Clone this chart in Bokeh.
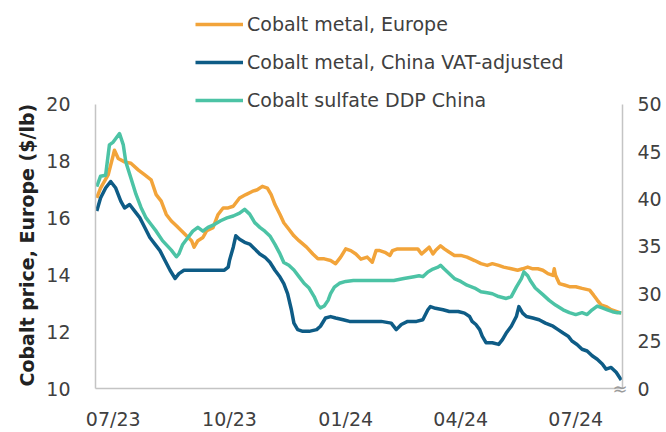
import pandas as pd
from bokeh.plotting import figure
from bokeh.models import (Range1d, LinearAxis, FixedTicker, DatetimeTickFormatter,
                          CustomJSTickFormatter, Legend, LegendItem, Title, ColumnDataSource)
from bokeh.embed import file_html
from bokeh.resources import INLINE

# ---------------- data ----------------
europe_dates = ["2023-06-18", "2023-06-21", "2023-06-27", "2023-07-01", "2023-07-02", "2023-07-05",
                "2023-07-10", "2023-07-15", "2023-07-21", "2023-07-26", "2023-07-31", "2023-08-04",
                "2023-08-08", "2023-08-12", "2023-08-16", "2023-08-20", "2023-08-24", "2023-08-28",
                "2023-09-01", "2023-09-03", "2023-09-06", "2023-09-10", "2023-09-13", "2023-09-18",
                "2023-09-22", "2023-09-26", "2023-09-30", "2023-10-04", "2023-10-09", "2023-10-14",
                "2023-10-19", "2023-10-23", "2023-10-27", "2023-10-31", "2023-11-03", "2023-11-06",
                "2023-11-10", "2023-11-13", "2023-11-17", "2023-11-21", "2023-11-25", "2023-12-01",
                "2023-12-06", "2023-12-10", "2023-12-15", "2023-12-20", "2023-12-24", "2023-12-28",
                "2024-01-01", "2024-01-05", "2024-01-09", "2024-01-13", "2024-01-18", "2024-01-22",
                "2024-01-25", "2024-01-28", "2024-02-01", "2024-02-05", "2024-02-07", "2024-02-11",
                "2024-02-22", "2024-02-27", "2024-03-01", "2024-03-04", "2024-03-07", "2024-03-10",
                "2024-03-12", "2024-03-16", "2024-03-19", "2024-03-23", "2024-03-27", "2024-04-01",
                "2024-04-06", "2024-04-12", "2024-04-17", "2024-04-22", "2024-04-26", "2024-05-01",
                "2024-05-05", "2024-05-11", "2024-05-16", "2024-05-20", "2024-05-24", "2024-05-28",
                "2024-06-01", "2024-06-05", "2024-06-09", "2024-06-13", "2024-06-14", "2024-06-15",
                "2024-06-18", "2024-06-22", "2024-06-26", "2024-07-01", "2024-07-06", "2024-07-12",
                "2024-07-15", "2024-07-18", "2024-07-21", "2024-07-25", "2024-07-29", "2024-08-02",
                "2024-08-06"]
europe_vals = [16.70, 17.05, 17.51, 18.20, 18.38, 18.09,
               17.97, 17.92, 17.68, 17.51, 17.34, 16.82,
               16.59, 16.12, 15.89, 15.72, 15.55, 15.37,
               15.20, 14.97, 15.20, 15.31, 15.55, 15.66,
               16.12, 16.35, 16.35, 16.41, 16.70, 16.82,
               16.93, 16.99, 17.11, 17.05, 16.82, 16.47,
               16.12, 15.83, 15.60, 15.37, 15.20, 14.97,
               14.73, 14.56, 14.56, 14.50, 14.39, 14.62,
               14.91, 14.85, 14.73, 14.55, 14.62, 14.44,
               14.85, 14.85, 14.79, 14.68, 14.85, 14.91,
               14.91, 14.91, 14.73, 14.85, 14.97, 14.73,
               14.85, 15.02, 14.91, 14.79, 14.68, 14.68,
               14.62, 14.50, 14.39, 14.33, 14.39, 14.33,
               14.27, 14.21, 14.16, 14.21, 14.27, 14.21,
               14.21, 14.16, 14.04, 13.98, 14.21, 13.98,
               13.69, 13.64, 13.58, 13.58, 13.52, 13.46,
               13.29, 13.11, 12.94, 12.88, 12.77, 12.71,
               12.65]

china_dates = ["2023-06-18", "2023-06-21", "2023-06-25", "2023-06-29", "2023-07-03", "2023-07-07",
               "2023-07-10", "2023-07-14", "2023-07-18", "2023-07-22", "2023-07-26", "2023-07-30",
               "2023-08-03", "2023-08-07", "2023-08-11", "2023-08-15", "2023-08-19", "2023-08-22",
               "2023-08-26", "2023-09-27", "2023-09-30", "2023-10-01", "2023-10-04", "2023-10-06",
               "2023-10-09", "2023-10-13", "2023-10-17", "2023-10-21", "2023-10-25", "2023-10-29",
               "2023-11-02", "2023-11-06", "2023-11-10", "2023-11-13", "2023-11-16", "2023-11-19",
               "2023-11-21", "2023-11-24", "2023-11-28", "2023-12-03", "2023-12-09", "2023-12-12",
               "2023-12-16", "2023-12-20", "2023-12-24", "2023-12-30", "2024-01-04", "2024-01-29",
               "2024-02-06", "2024-02-10", "2024-02-14", "2024-02-19", "2024-02-26", "2024-03-02",
               "2024-03-06", "2024-03-08", "2024-03-12", "2024-03-18", "2024-03-23", "2024-03-30",
               "2024-04-04", "2024-04-08", "2024-04-10", "2024-04-13", "2024-04-16", "2024-04-18",
               "2024-04-21", "2024-04-26", "2024-05-01", "2024-05-04", "2024-05-07", "2024-05-11",
               "2024-05-15", "2024-05-17", "2024-05-20", "2024-05-23", "2024-05-28", "2024-06-02",
               "2024-06-07", "2024-06-13", "2024-06-17", "2024-06-21", "2024-06-25", "2024-06-28",
               "2024-07-02", "2024-07-06", "2024-07-10", "2024-07-14", "2024-07-18", "2024-07-22",
               "2024-07-25", "2024-07-29", "2024-08-02", "2024-08-06"]
china_vals = [16.24, 16.70, 17.05, 17.28, 17.05, 16.59,
              16.35, 16.47, 16.24, 16.01, 15.66, 15.31,
              15.08, 14.85, 14.50, 14.16, 13.87, 14.04,
              14.16, 14.16, 14.27, 14.50, 14.97, 15.37,
              15.25, 15.14, 15.08, 14.91, 14.73, 14.62,
              14.44, 14.16, 13.92, 13.69, 13.34, 12.77,
              12.30, 12.07, 12.01, 12.01, 12.07, 12.19,
              12.48, 12.53, 12.48, 12.42, 12.36, 12.36,
              12.30, 12.07, 12.25, 12.36, 12.36, 12.42,
              12.77, 12.88, 12.82, 12.77, 12.71, 12.71,
              12.65, 12.53, 12.36, 12.25, 12.07, 11.84,
              11.61, 11.61, 11.55, 11.72, 11.95, 12.19,
              12.53, 12.88, 12.65, 12.53, 12.48, 12.42,
              12.30, 12.19, 12.07, 11.95, 11.84, 11.67,
              11.55, 11.38, 11.32, 11.15, 11.03, 10.86,
              10.68, 10.74, 10.57, 10.30]

sulfate_dates = ["2023-06-18", "2023-06-21", "2023-06-25", "2023-06-28", "2023-07-01", "2023-07-06",
                 "2023-07-09", "2023-07-11", "2023-07-15", "2023-07-19", "2023-07-23", "2023-07-27",
                 "2023-07-31", "2023-08-04", "2023-08-09", "2023-08-16", "2023-08-20", "2023-08-22",
                 "2023-08-25", "2023-08-29", "2023-09-02", "2023-09-06", "2023-09-10", "2023-09-14",
                 "2023-09-19", "2023-09-24", "2023-09-29", "2023-10-04", "2023-10-09", "2023-10-13",
                 "2023-10-17", "2023-10-21", "2023-10-25", "2023-10-29", "2023-11-02", "2023-11-06",
                 "2023-11-10", "2023-11-13", "2023-11-17", "2023-11-21", "2023-11-25", "2023-11-29",
                 "2023-12-03", "2023-12-07", "2023-12-10", "2023-12-12", "2023-12-15", "2023-12-18",
                 "2023-12-20", "2023-12-23", "2023-12-27", "2024-01-01", "2024-01-07", "2024-02-08",
                 "2024-02-16", "2024-02-24", "2024-02-28", "2024-03-02", "2024-03-06", "2024-03-10",
                 "2024-03-14", "2024-03-16", "2024-03-19", "2024-03-23", "2024-03-27", "2024-04-01",
                 "2024-04-06", "2024-04-12", "2024-04-17", "2024-04-22", "2024-04-26", "2024-05-01",
                 "2024-05-07", "2024-05-11", "2024-05-15", "2024-05-19", "2024-05-21", "2024-05-24",
                 "2024-05-26", "2024-05-30", "2024-06-05", "2024-06-10", "2024-06-15", "2024-06-21",
                 "2024-06-26", "2024-07-01", "2024-07-06", "2024-07-10", "2024-07-14", "2024-07-18",
                 "2024-07-22", "2024-07-26", "2024-07-30", "2024-08-03", "2024-08-06"]
sulfate_vals = [41.3, 42.4, 42.5, 45.7, 46.0, 46.9,
                45.7, 43.9, 42.2, 40.5, 39.1, 38.0,
                37.3, 36.6, 35.6, 34.6, 33.9, 34.2,
                35.2, 35.9, 36.6, 37.0, 36.6, 37.0,
                37.3, 37.7, 38.0, 38.2, 38.5, 38.9,
                38.4, 37.5, 37.0, 36.6, 36.1, 35.2,
                34.2, 33.3, 33.0, 32.5, 31.8, 31.1,
                30.6, 29.7, 28.8, 28.5, 28.7, 29.3,
                30.0, 30.7, 31.1, 31.3, 31.4, 31.4,
                31.6, 31.8, 31.9, 31.8, 32.3, 32.6,
                32.8, 33.0, 32.6, 32.1, 31.6, 31.3,
                30.9, 30.6, 30.2, 30.1, 30.0, 29.7,
                29.5, 29.7, 30.7, 31.6, 32.3, 31.9,
                31.4, 30.6, 29.9, 29.3, 28.8, 28.3,
                28.0, 27.8, 28.0, 27.8, 28.3, 28.7,
                28.5, 28.3, 28.1, 28.0, 28.0]

x_tick_dates = ["2023-07-01", "2023-10-01", "2024-01-01", "2024-04-01", "2024-07-01"]
left_ticks = [10, 12, 14, 16, 18, 20]
right_ticks = [20, 25, 30, 35, 40, 45, 50]
right_overrides = {20: "0"}
left_bounds = (10, 20)
right_bounds = (20, 50)
x_start, x_end = "2023-06-17", "2024-08-07"
break_mark = "≈"

series_names = ["Cobalt metal, Europe", "Cobalt metal, China VAT-adjusted", "Cobalt sulfate DDP China"]
colors = ["#F2A43A", "#0E5C86", "#4CC3A5"]
y_title = "Cobalt price, Europe ($/lb)"

# ---------------- layout (pixels) ----------------
W, H = 666, 432
AX_LEFT, AX_RIGHT, AX_TOP, AX_BOTTOM = 95, 622, 105, 393

def ext_range(lo, hi):
    # frame reaches the top of the canvas so the legend above the axes is not clipped
    ppu = (AX_BOTTOM - AX_TOP) / (hi - lo)
    return Range1d(lo, hi + AX_TOP / ppu)

FONT = "DejaVu Sans"
TXT = "#404040"
AX = "#c4c4c4"
TICK_FS = "19px"

t0, t1 = pd.Timestamp(x_start), pd.Timestamp(x_end)

p = figure(width=W, height=H, x_axis_type="datetime", title=None,
           x_range=Range1d(t0, t1), y_range=ext_range(*left_bounds),
           output_backend="svg", toolbar_location=None,
           min_border_left=AX_LEFT, min_border_right=W - AX_RIGHT,
           min_border_top=0, min_border_bottom=H - AX_BOTTOM)
p.extra_y_ranges = {"sulfate": ext_range(*right_bounds)}
p.outline_line_color = None
p.xgrid.visible = False
p.ygrid.visible = False
p.background_fill_color = "white"
p.border_fill_color = "white"

src_e = ColumnDataSource(dict(x=pd.to_datetime(europe_dates), y=europe_vals))
src_c = ColumnDataSource(dict(x=pd.to_datetime(china_dates), y=china_vals))
src_s = ColumnDataSource(dict(x=pd.to_datetime(sulfate_dates), y=sulfate_vals))

r_e = p.line("x", "y", source=src_e, line_color=colors[0], line_width=3.5, line_join="round")
r_c = p.line("x", "y", source=src_c, line_color=colors[1], line_width=3.5, line_join="round")
r_s = p.line("x", "y", source=src_s, line_color=colors[2], line_width=3.5, line_join="round",
             y_range_name="sulfate")

def style_axis(ax):
    ax.axis_line_color = AX
    ax.axis_line_width = 1.5
    ax.major_tick_line_color = None
    ax.minor_tick_line_color = None
    ax.major_label_text_font = FONT
    ax.major_label_text_font_size = TICK_FS
    ax.major_label_text_color = TXT

# x axis
xa = p.xaxis[0]
style_axis(xa)
xa.ticker = FixedTicker(ticks=[pd.Timestamp(d).value // 10**6 for d in x_tick_dates])
xa.formatter = DatetimeTickFormatter(months="%m/%y", days="%m/%y", years="%m/%y")
xa.major_label_standoff = 13

# left axis
ya = p.yaxis[0]
style_axis(ya)
ya.ticker = FixedTicker(ticks=left_ticks)
ya.bounds = left_bounds
ya.major_label_standoff = 19

# left axis title (side-panel title, anchored at the bottom of the 10-20 span)
p.add_layout(Title(text=y_title, align="left", offset=2, standoff=12,
                   text_font=FONT, text_font_size="19px", text_font_style="bold",
                   text_color="#222222"), "left")

# right side: inner axis draws the axis line and the break mark at the bottom,
# outer axis carries the 25..50 labels
brk = LinearAxis(y_range_name="sulfate", ticker=FixedTicker(ticks=[right_bounds[0]]),
                 formatter=CustomJSTickFormatter(code="return '%s'" % break_mark),
                 bounds=right_bounds)
style_axis(brk)
brk.major_tick_out = 0
brk.major_label_text_font_size = "18px"
brk.major_label_text_color = "#9a9a9a"
brk.major_label_standoff = -10

ra = LinearAxis(y_range_name="sulfate", ticker=FixedTicker(ticks=right_ticks),
                major_label_overrides=right_overrides, bounds=right_bounds)
style_axis(ra)
ra.major_tick_out = 0
ra.axis_line_color = None
ra.major_label_standoff = 7
p.add_layout(brk, "right")
p.add_layout(ra, "right")

legend = Legend(items=[LegendItem(label=series_names[0], renderers=[r_e]),
                       LegendItem(label=series_names[1], renderers=[r_c]),
                       LegendItem(label=series_names[2], renderers=[r_s])],
                location=(100, AX_BOTTOM - 12 - 99 - 5))
legend.background_fill_alpha = 0
legend.border_line_color = None
legend.padding = 0
legend.margin = 0
legend.spacing = 16
legend.glyph_width = 48
legend.glyph_height = 22
legend.label_height = 22
legend.label_standoff = 4
legend.label_text_font = FONT
legend.label_text_font_size = "19px"
legend.label_text_color = TXT
p.add_layout(legend)

open("out.html", "w").write(file_html(p, INLINE))
